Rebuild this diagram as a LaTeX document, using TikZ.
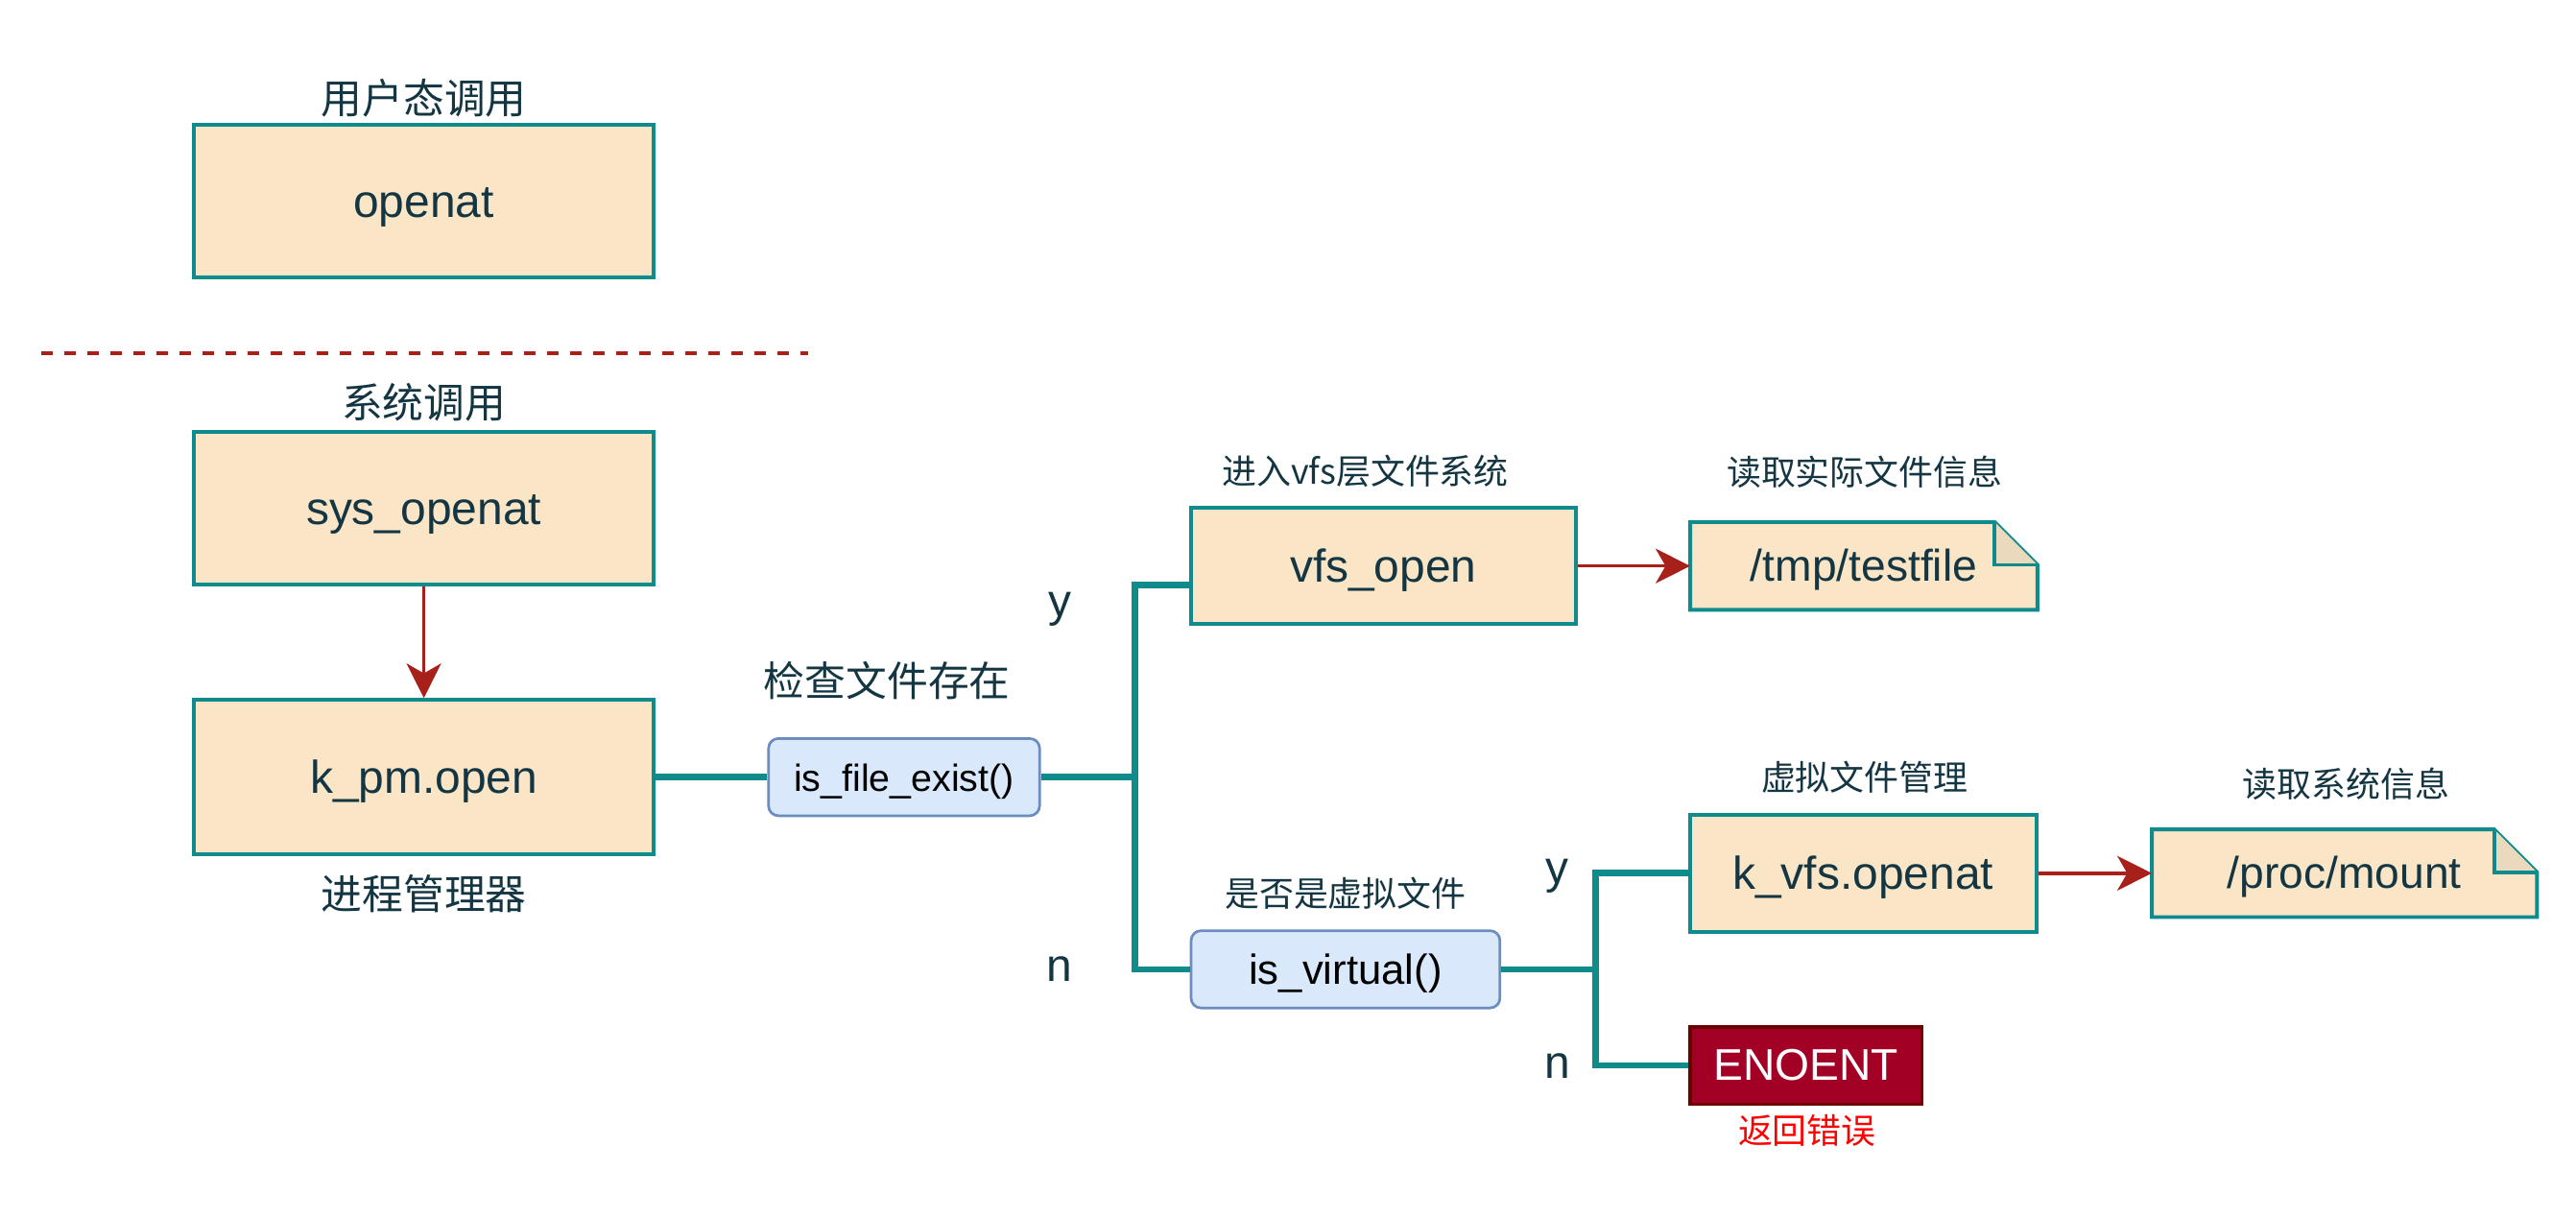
\documentclass[tikz,border=0pt]{standalone}
\usepackage{fontspec}
\setmainfont{Liberation Sans}
\newfontfamily\cjk{Noto Sans CJK SC}
\usetikzlibrary{arrows.meta,calc,backgrounds}
\definecolor{boxfill}{HTML}{FAE5C7}
\definecolor{boxline}{HTML}{0F8B8D}
\definecolor{txtc}{HTML}{143642}
\definecolor{arrc}{HTML}{A8201A}
\definecolor{bluefill}{HTML}{DAE8FC}
\definecolor{blueline}{HTML}{6C8EBF}
\definecolor{errfill}{HTML}{A20025}
\definecolor{errline}{HTML}{6F0000}
\definecolor{foldfill}{HTML}{EBD9BE}
\tikzset{
  boxst/.style={draw=boxline, fill=boxfill, line width=2.3pt, text=txtc,
    font=\fontsize{28}{32}\selectfont, inner sep=0pt,
    text height=22.2pt, text depth=3pt},
  notest/.style={inner sep=0pt, text=txtc, font=\fontsize{27}{32}\selectfont,
    text height=21.5pt, text depth=2.9pt},
  noteline/.style={draw=boxline, line width=2.3pt, line join=miter},
  rbox/.style={draw=blueline, fill=bluefill, line width=1.6pt, rounded corners=6pt,
    text=black, inner sep=0pt},
  errbox/.style={draw=errline, fill=errfill, line width=2pt, text=white,
    font=\fontsize{27}{32}\selectfont, inner sep=0pt, text height=21.5pt, text depth=2.9pt},
  biglab/.style={text=txtc, font=\cjk\fontsize{25}{30}\selectfont, inner sep=0pt},
  smalllab/.style={text=txtc, font=\cjk\fontsize{21}{26}\selectfont, inner sep=0pt},
  yn/.style={text=txtc, font=\fontsize{28}{32}\selectfont, inner sep=0pt},
  conn/.style={draw=boxline, line width=4pt, line join=miter},
  redarrow/.style={draw=arrc, line width=2pt,
    -{Stealth[length=21pt, width=21pt, inset=6pt, fill=arrc]}},
  sepline/.style={draw=arrc, line width=2pt, dash pattern=on 7pt off 7pt}
}
\begin{document}
\begin{tikzpicture}[x=1pt, y=-1pt]
\useasboundingbox (0,0) rectangle (1568,741);

% left column
\node[biglab] (lab1) at (258,60) {用户态调用};
\node[boxst, minimum width=280pt, minimum height=93pt] (openat) at (258,122.5) {openat};
\coordinate (d1) at (25,215);
\coordinate (d2) at (492,215);
\draw[sepline] (d1) -- (d2);
\node[biglab] (lab2) at (258,245) {系统调用};
\node[boxst, minimum width=280pt, minimum height=93pt] (sysopen) at (258,309.5) {sys\_openat};
\node[boxst, minimum width=280pt, minimum height=94pt] (kpm) at (258,473) {k\_pm.open};
\node[biglab] (lab3) at (258,544) {进程管理器};
\draw[redarrow] (sysopen.south) -- (kpm.north);

% is_file_exist
\node[biglab] (lab4) at (540,414) {检查文件存在};
\node[rbox, minimum width=165pt, minimum height=47pt, font=\fontsize{23}{28}\selectfont,
  text height=19pt, text depth=1.7pt] (isfe) at (550.3,473) {is\_file\_exist()};
\draw[conn] (kpm.east) -- (isfe.west);

% vfs_open branch
\node[smalllab] (lab5) at (831,287) {进入vfs层文件系统};
\node[boxst, minimum width=234pt, minimum height=71pt] (vfsopen) at (842,344.5) {vfs\_open};
\node[smalllab] (lab6) at (1135,287) {读取实际文件信息};
\node[notest, minimum width=211pt, minimum height=53pt] (tmpf) at (1134.5,344.5) {/tmp/testfile};
\begin{scope}[on background layer]
\draw[noteline, fill=boxfill] (tmpf.north west) -- ($(tmpf.north east)+(-26,0)$) -- ($(tmpf.north east)+(0,26)$) -- (tmpf.south east) -- (tmpf.south west) -- cycle;
\draw[noteline, fill=foldfill] ($(tmpf.north east)+(-26,0)$) -- ($(tmpf.north east)+(-26,26)$) -- ($(tmpf.north east)+(0,26)$);
\end{scope}
\draw[redarrow] (vfsopen.east) -- (tmpf.west);

% is_virtual
\node[smalllab] (lab7) at (819,544) {是否是虚拟文件};
\node[rbox, minimum width=188pt, minimum height=47pt, font=\fontsize{25.5}{30}\selectfont,
  text height=20.8pt, text depth=2.2pt] (isvirt) at (819,590) {is\_virtual()};

\coordinate (j1) at (691,473);
\coordinate (vin) at ($(vfsopen.west)+(0,11.5)$);
\draw[conn] (isfe.east) -- (j1) |- (vin);
\draw[conn] (isfe.east) -- (j1) |- (isvirt.west);
\node[yn] (y1) at (645,371) {y};
\node[yn] (n1) at (645,590) {n};

% virtual branch
\node[smalllab] (lab8) at (1135,473) {虚拟文件管理};
\node[boxst, minimum width=211pt, minimum height=71pt] (kvfs) at (1134,531.5) {k\_vfs.openat};
\node[smalllab] (lab9) at (1428,477) {读取系统信息};
\node[notest, minimum width=234pt, minimum height=53pt] (procm) at (1427,531.5) {/proc/mount};
\begin{scope}[on background layer]
\draw[noteline, fill=boxfill] (procm.north west) -- ($(procm.north east)+(-26,0)$) -- ($(procm.north east)+(0,26)$) -- (procm.south east) -- (procm.south west) -- cycle;
\draw[noteline, fill=foldfill] ($(procm.north east)+(-26,0)$) -- ($(procm.north east)+(-26,26)$) -- ($(procm.north east)+(0,26)$);
\end{scope}
\draw[redarrow] (kvfs.east) -- (procm.west);

\node[errbox, minimum width=141pt, minimum height=47pt] (enoent) at (1099.2,648.5) {ENOENT};
\node[text=red, font=\cjk\fontsize{21}{26}\selectfont, inner sep=0pt] (lab10) at (1100,688) {返回错误};

\coordinate (j2) at (971,590);
\draw[conn] (isvirt.east) -- (j2) |- (kvfs.west);
\draw[conn] (isvirt.east) -- (j2) |- (enoent.west);
\node[yn] (y2) at (948,533) {y};
\node[yn] (n2) at (948,649) {n};
\end{tikzpicture}
\end{document}
